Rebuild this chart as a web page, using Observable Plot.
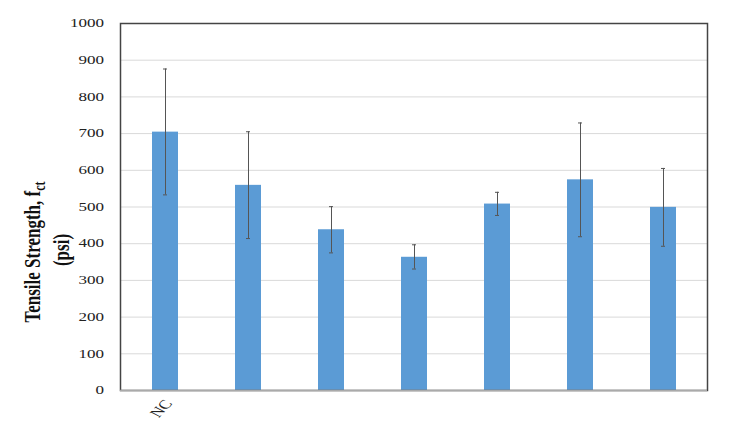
<!DOCTYPE html>
<html>
<head>
<meta charset="utf-8">
<script src="https://cdn.jsdelivr.net/npm/d3@7"></script>
<script src="https://cdn.jsdelivr.net/npm/@observablehq/plot@0.6"></script>
<style>
  html, body { margin: 0; padding: 0; background: #fff; }
  #chart { position: absolute; left: 0; top: 0; }
  svg, svg text, svg g { font-family: "Liberation Serif", "DejaVu Serif", serif !important; }
</style>
</head>
<body>
<div id="chart"></div>
<script>
const categories = ["NC", "B", "C", "D", "E", "F", "G"];
const tickLabels = ["NC", "", "", "", "", "", ""];
const strength = [704, 559, 438, 363, 508, 574, 499];
const errLow = [533, 414, 375, 331, 477, 419, 393];
const errHigh = [876, 705, 501, 397, 540, 729, 605];
const yTicks = [0, 100, 200, 300, 400, 500, 600, 700, 800, 900, 1000];

const data = categories.map((c, i) => ({cat: c, v: strength[i], lo: errLow[i], hi: errHigh[i]}));

const STRETCH = 1.36;

const plot = Plot.plot({
  width: 753,
  height: 431,
  marginLeft: 120,
  marginRight: 46,
  marginTop: 23,
  marginBottom: 41,
  style: {fontFamily: "Liberation Serif, serif", fontSize: "12.5px", color: "#222", background: "#fff"},
  x: {domain: categories, paddingInner: 0.69, paddingOuter: 0.345, align: 0.5, axis: null},
  y: {domain: [0, 1000], axis: null},
  marks: [
    Plot.gridY(yTicks, {stroke: "#d9d9d9", strokeOpacity: 1, strokeWidth: 1}),
    Plot.barY(data, {x: "cat", y: "v", fill: "#5b9bd5"}),
    Plot.ruleX(data, {x: "cat", y1: "lo", y2: "hi", stroke: "#555", strokeWidth: 1}),
    Plot.tickY(data, {x: "cat", y: "lo", stroke: "#555", strokeWidth: 1, inset: 11}),
    Plot.tickY(data, {x: "cat", y: "hi", stroke: "#555", strokeWidth: 1, inset: 11}),
    Plot.frame({stroke: "#444", strokeWidth: 1.5}),
    Plot.ruleY([0], {stroke: "#aaa", strokeWidth: 1.5})
  ]
});

document.getElementById("chart").appendChild(plot);
const svg = d3.select(plot);
const ys = plot.scale("y");
const xs = plot.scale("x");

// y tick labels (glyphs widened sideways, as in the reference picture)
const yAxis = svg.append("g").attr("aria-label", "y-axis tick label")
  .attr("font-size", 12.5).attr("fill", "#222").attr("text-anchor", "end");
yTicks.forEach(v => {
  yAxis.append("text")
    .attr("transform", `translate(104,${ys.apply(v)}) scale(${STRETCH},1)`)
    .attr("dy", "0.34em")
    .text(String(v));
});

// x tick labels (only the first category is labelled)
const xAxis = svg.append("g").attr("aria-label", "x-axis tick label")
  .attr("font-size", 13).attr("fill", "#222").attr("text-anchor", "end");
categories.forEach((c, i) => {
  if (!tickLabels[i]) return;
  const cx = xs.apply(c) + (xs.bandwidth || 0) / 2;
  xAxis.append("text")
    .attr("transform", `translate(${cx + 3},401) scale(${STRETCH},1) rotate(-55)`)
    .attr("dy", "0.34em")
    .text(tickLabels[i]);
});

// y-axis title with subscript
const t = svg.append("text")
  .attr("transform", `translate(40,252) scale(${STRETCH},1) rotate(-90)`)
  .attr("text-anchor", "middle")
  .attr("font-weight", "bold")
  .attr("font-size", 17)
  .attr("fill", "#111");
t.append("tspan").text("Tensile Strength, f");
t.append("tspan").attr("font-size", 12).attr("dy", 4).text("ct");
svg.append("text")
  .attr("transform", `translate(69,250) scale(${STRETCH},1) rotate(-90)`)
  .attr("text-anchor", "middle")
  .attr("font-weight", "bold")
  .attr("font-size", 17)
  .attr("fill", "#111")
  .text("(psi)");
</script>
</body>
</html>
